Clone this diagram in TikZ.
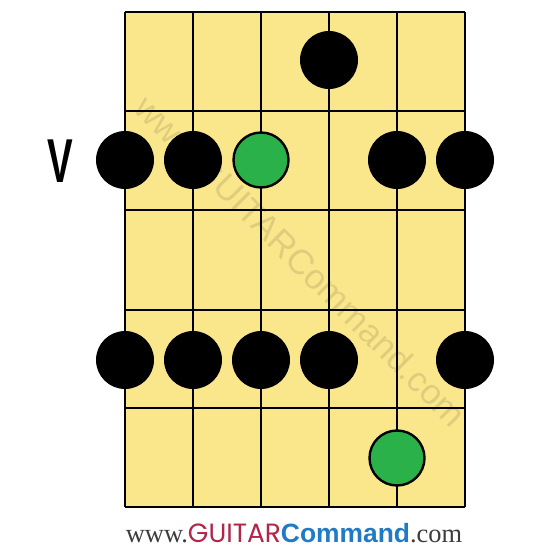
\documentclass[tikz,border=0pt]{standalone}
\usepackage{fontspec}
\setmainfont{Liberation Serif}
\newfontfamily\gcsans{Poppins}
\newfontfamily\cmdsans{Liberation Sans}
\definecolor{board}{RGB}{250,231,140}
\definecolor{dotgreen}{RGB}{43,177,74}
\definecolor{gcred}{RGB}{178,36,72}
\definecolor{gcblue}{RGB}{32,122,196}
\definecolor{gcgrey}{RGB}{60,60,60}
\tikzset{
  gridline/.style={line width=1.3pt, black},
  blackdot/.style={circle, fill=black, minimum size=29pt, inner sep=0pt},
  greendot/.style={circle, fill=dotgreen, draw=black, line width=1.2pt, minimum size=27.5pt, inner sep=0pt},
}
\begin{document}
\begin{tikzpicture}[x=0.5pt,y=-0.5pt]
\useasboundingbox (0,0) rectangle (550,550);
\fill[white] (0,0) rectangle (550,550);
% board
\fill[board] (125,12) rectangle (465,507);
% watermark
\node[rotate=-45, text=black, opacity=0.11, font=\cmdsans\fontsize{17.5}{17.5}\selectfont] (wm) at (301,261) {www.GUITARCommand.com};
% strings
\foreach \x in {125,193,261,329,397,465} \draw[gridline] (\x,12) -- (\x,507);
% frets
\foreach \y in {12,111,210,310,408,507} \draw[gridline] (125,\y) -- (465,\y);
% dots
\node[blackdot] (a4) at (329,60) {};
\node[blackdot] (b1) at (125,160) {};
\node[blackdot] (b2) at (193,160) {};
\node[greendot] (b3) at (261,160) {};
\node[blackdot] (b5) at (397,160) {};
\node[blackdot] (b6) at (465,160) {};
\node[blackdot] (d1) at (125,360) {};
\node[blackdot] (d2) at (193,360) {};
\node[blackdot] (d3) at (261,360) {};
\node[blackdot] (d4) at (329,360) {};
\node[blackdot] (d6) at (465,360) {};
\node[greendot] (e5) at (397,458) {};
% position label
\node[font=\cmdsans\bfseries\fontsize{31}{31}\selectfont, xscale=0.62] (pos) at (60,161) {V};
% footer
\node[inner sep=0pt, font=\fontsize{13.2}{13.2}\selectfont] (footer) at (294,533)
  {\textcolor{gcgrey}{www.}{\gcsans\color{gcred}GUITAR}{\cmdsans\bfseries\color{gcblue}Command}\textcolor{gcgrey}{.com}};
\end{tikzpicture}
\end{document}
